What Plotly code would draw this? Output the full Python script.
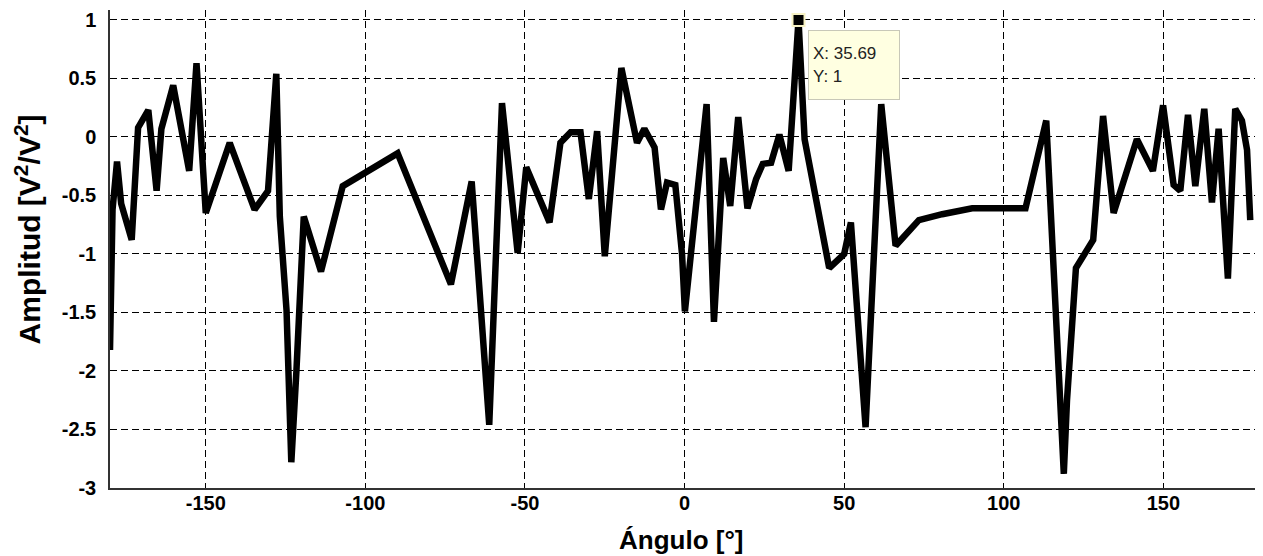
import plotly.graph_objects as go

# Data
angle = [-180, -179.2, -177.8, -176.5, -173.2, -171.2, -168.0, -165.4, -163.9, -160.2,
         -155.2, -152.9, -150.0, -142.5, -134.7, -130.5, -127.9, -126.8, -124.7, -123.2,
         -121.6, -119.3, -113.9, -107.1, -89.9, -73.2, -66.7, -63.3, -61.2, -57.2,
         -52.3, -49.6, -42.3, -38.9, -35.7, -32.6, -30.0, -27.4, -25.0, -19.8,
         -14.9, -12.6, -9.4, -7.4, -5.5, -2.9, -0.8, 0.1, 6.9, 9.2,
         12.1, 14.3, 16.8, 19.7, 22.4, 24.5, 27.1, 29.7, 32.6, 35.69,
         37.6, 45.3, 50.0, 52.1, 56.7, 61.6, 66.1, 73.4, 80.7, 90.1,
         106.8, 113.3, 114.6, 116.2, 117.7, 118.8, 119.8, 122.6, 128.0, 131.1,
         134.4, 141.7, 146.7, 149.9, 153.2, 155.3, 157.7, 160.0, 162.8, 165.2,
         167.3, 168.9, 170.2, 172.5, 174.6, 176.2, 177.2]
amplitude = [-1.82, -0.62, -0.21, -0.57, -0.88, 0.08, 0.23, -0.46, 0.07, 0.44,
             -0.29, 0.63, -0.65, -0.05, -0.62, -0.46, 0.54, -0.68, -1.48, -2.78,
             -2.0, -0.68, -1.15, -0.42, -0.14, -1.26, -0.38, -1.76, -2.46, 0.29,
             -0.99, -0.26, -0.73, -0.05, 0.04, 0.04, -0.53, 0.05, -1.02, 0.59,
             -0.05, 0.07, -0.09, -0.62, -0.39, -0.41, -1.0, -1.49, 0.28, -1.58,
             -0.18, -0.59, 0.17, -0.61, -0.36, -0.23, -0.22, 0.02, -0.29, 1.0,
             -0.02, -1.12, -1.0, -0.73, -2.48, 0.28, -0.93, -0.71, -0.66, -0.61,
             -0.61, 0.14, -0.53, -1.51, -2.22, -2.88, -2.25, -1.12, -0.88, 0.18,
             -0.65, -0.02, -0.29, 0.27, -0.41, -0.46, 0.19, -0.42, 0.24, -0.56,
             0.07, -0.6, -1.21, 0.24, 0.14, -0.11, -0.71]

tip_x = [35.69]
tip_y = [1]

x_ticks = [-150, -100, -50, 0, 50, 100, 150]
x_tick_text = ["-150", "-100", "-50", "0", "50", "100", "150"]
y_ticks = [-3, -2.5, -2, -1.5, -1, -0.5, 0, 0.5, 1]
y_tick_text = ["-3", "-2.5", "-2", "-1.5", "-1", "-0.5", "0", "0.5", "1"]

x_title = "Ángulo [°]"
y_title = "Amplitud [V<sup>2</sup>/V<sup>2</sup>]"

FONT = "Liberation Sans, Arial, sans-serif"

fig = go.Figure()
fig.add_trace(go.Scatter(x=angle, y=amplitude, mode="lines",
                         line=dict(color="black", width=6.5),
                         hoverinfo="skip", showlegend=False))
fig.add_trace(go.Scatter(x=tip_x, y=tip_y, mode="markers",
                         marker=dict(symbol="square", size=12, color="black",
                                     line=dict(color="#f7f2c4", width=2)),
                         cliponaxis=False, showlegend=False))

fig.add_annotation(x=tip_x[0], y=tip_y[0], xref="x", yref="y",
                   text=f"X: {tip_x[0]:.2f}<br>Y: {tip_y[0]:g}",
                   showarrow=False, xanchor="left", yanchor="top",
                   xshift=9, yshift=-10, align="left", valign="middle",
                   width=82, height=60, borderpad=4,
                   bgcolor="#ffffe1", bordercolor="#c8c8b8", borderwidth=1,
                   font=dict(family=FONT, size=17, color="#222"))

# axis titles as annotations (positioned like the reference)
fig.add_annotation(text=x_title, xref="paper", yref="paper", x=0.495, y=-0.109,
                   xanchor="center", yanchor="middle", showarrow=False,
                   font=dict(family=FONT, size=26, color="black", weight="bold"))
fig.add_annotation(text=y_title, xref="paper", yref="paper", x=-0.0715, y=0.54,
                   xanchor="center", yanchor="middle", showarrow=False, textangle=-90,
                   font=dict(family=FONT, size=30, color="black", weight="bold"))

grid = dict(showgrid=True, gridcolor="black", gridwidth=1, griddash="7px,4px",
            zeroline=False, showline=True, linecolor="#333", linewidth=1.5,
            mirror=False, ticks="", automargin=False,
            tickfont=dict(family=FONT, size=20, color="black", weight="bold"))

# the page places the figure 8px from the top-left corner
fig.update_layout(
    width=1255, height=548,
    margin=dict(l=102, r=0, t=2, b=68),
    paper_bgcolor="white", plot_bgcolor="white",
    showlegend=False,
    xaxis=dict(range=[-180, 181.2], tickvals=x_ticks, ticktext=x_tick_text,
               ticklabelstandoff=-4, **grid),
    yaxis=dict(range=[-3, 1.085], tickvals=y_ticks, ticktext=y_tick_text,
               ticklabelstandoff=8, **grid),
)

fig.write_html("out.html")
